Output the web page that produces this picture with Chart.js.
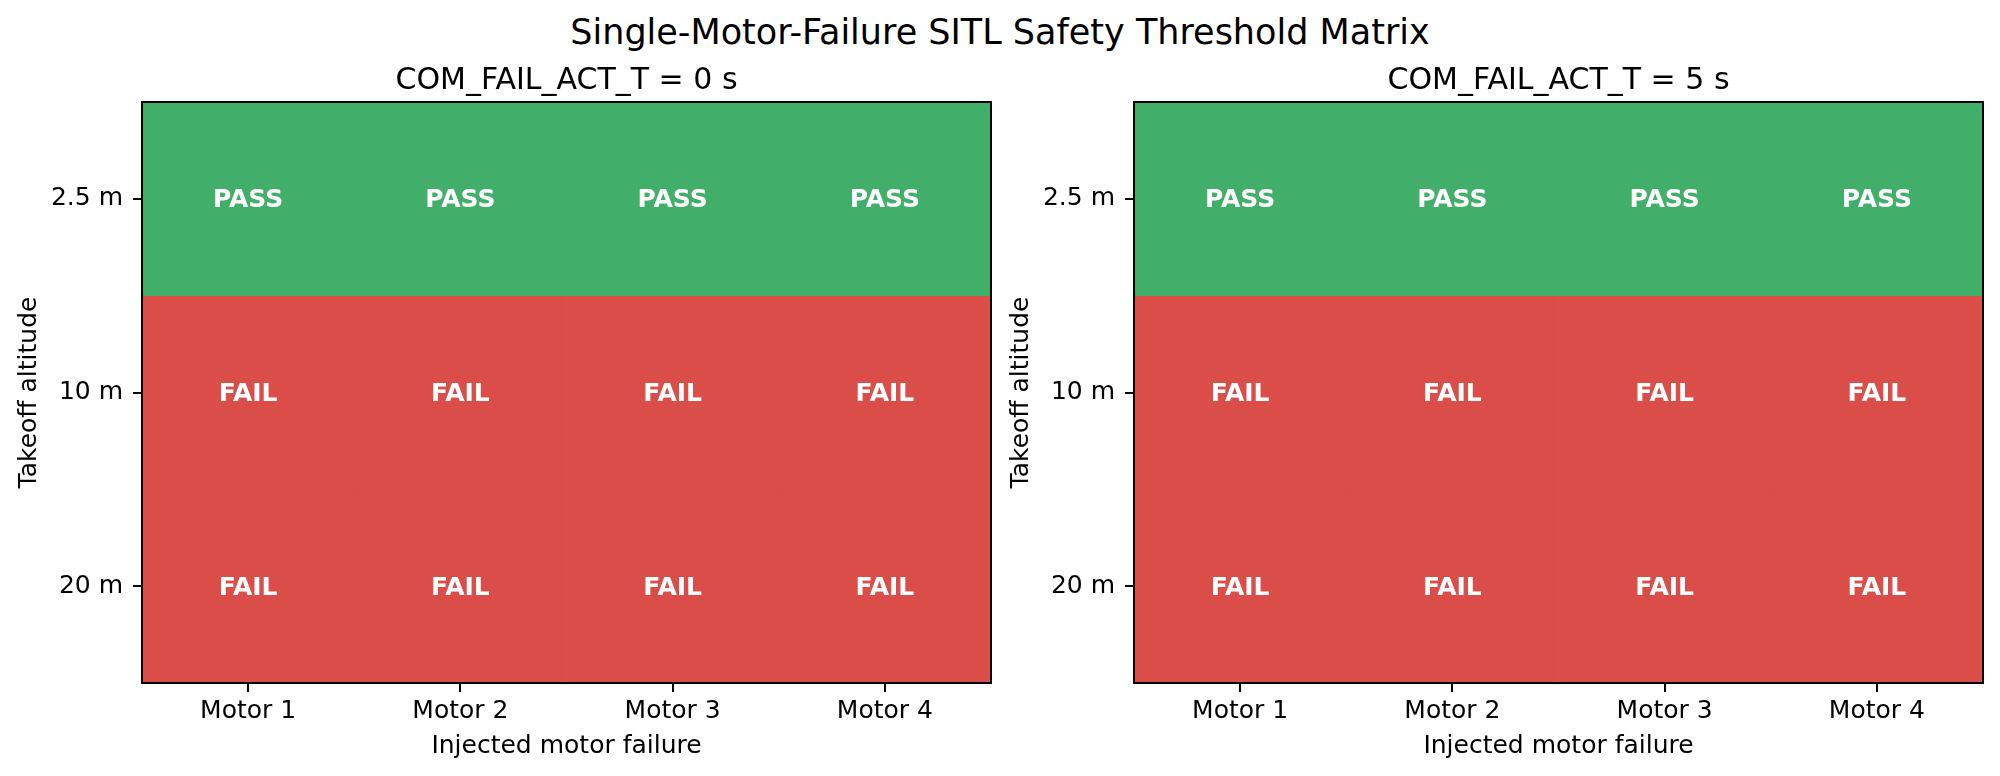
<!DOCTYPE html>
<html>
<head>
<meta charset="utf-8">
<script src="https://cdn.jsdelivr.net/npm/chart.js@4.4.1/dist/chart.umd.min.js"></script>
<style>
  html, body { margin: 0; padding: 0; background: #fff; }
  #wrap { position: relative; width: 2000px; height: 776px; overflow: hidden; }
  canvas { position: absolute; top: 0; }
  #suptitle {
    position: absolute; left: 0; width: 2000px; top: 15px;
    text-align: center; font-family: "DejaVu Sans", sans-serif;
    font-size: 35px; line-height: 1; color: #000;
  }
</style>
</head>
<body>
<div id="wrap">
  <div id="suptitle">Single-Motor-Failure SITL Safety Threshold Matrix</div>
  <canvas id="left" width="1000" height="776" style="left:0px"></canvas>
  <canvas id="right" width="1000" height="776" style="left:992px"></canvas>
</div>
<script>
// data
var motors = ['Motor 1', 'Motor 2', 'Motor 3', 'Motor 4'];
var altitudes = ['2.5 m', '10 m', '20 m'];
var delays = ['COM_FAIL_ACT_T = 0 s', 'COM_FAIL_ACT_T = 5 s'];
var resultsDelay0 = [
    ['PASS', 'PASS', 'PASS', 'PASS'],
    ['FAIL', 'FAIL', 'FAIL', 'FAIL'],
    ['FAIL', 'FAIL', 'FAIL', 'FAIL']
];
var resultsDelay5 = [
    ['PASS', 'PASS', 'PASS', 'PASS'],
    ['FAIL', 'FAIL', 'FAIL', 'FAIL'],
    ['FAIL', 'FAIL', 'FAIL', 'FAIL']
];

var colorFor = { PASS: 'rgb(65, 174, 106)', FAIL: 'rgb(219, 77, 72)' };
var font = '"DejaVu Sans", sans-serif';

// cell labels + frame + panel title
var cellPlugin = {
    id: 'cells',
    afterDatasetsDraw: function(chart) {
        var ctx = chart.ctx;
        var results = chart.options.plugins.cells.results;
        ctx.save();
        ctx.fillStyle = '#fff';
        ctx.font = 'bold 25px ' + font;
        ctx.textAlign = 'center';
        ctx.textBaseline = 'middle';
        chart.data.datasets.forEach(function(ds, r) {
            chart.getDatasetMeta(r).data.forEach(function(bar, c) {
                ctx.fillText(results[r][c], bar.x, (bar.y + bar.base) / 2 + 2);
            });
        });
        var a = chart.chartArea;
        ctx.strokeStyle = '#000';
        ctx.lineWidth = 2;
        ctx.strokeRect(a.left, a.top, a.right - a.left, a.bottom - a.top);
        ctx.fillStyle = '#000';
        ctx.font = '30px ' + font;
        ctx.textBaseline = 'alphabetic';
        ctx.fillText(chart.options.plugins.cells.title, (a.left + a.right) / 2, 89);
        ctx.restore();
    }
};

function makePanel(id, title, results) {
    var datasets = altitudes.map(function(alt, r) {
        return {
            label: alt,
            data: motors.map(function() { return [r, r + 1]; }),
            backgroundColor: results[r].map(function(v) { return colorFor[v]; }),
            borderWidth: 0,
            barPercentage: 1,
            categoryPercentage: 1,
            grouped: false
        };
    });
    return new Chart(document.getElementById(id).getContext('2d'), {
        type: 'bar',
        data: { labels: motors, datasets: datasets },
        options: {
            responsive: false,
            animation: false,
            devicePixelRatio: 1,
            layout: { padding: { top: 102, right: 9, left: 0, bottom: 0 } },
            scales: {
                x: {
                    offset: true,
                    grid: { display: true, drawOnChartArea: false, drawTicks: true, tickLength: 9, offset: false, color: '#000', lineWidth: 2 },
                    border: { display: false },
                    ticks: { color: '#000', font: { family: font, size: 25 }, padding: 4, maxRotation: 0 },
                    title: { display: true, text: 'Injected motor failure', color: '#000', font: { family: font, size: 25 }, padding: { top: 0, bottom: 15 } },
                    afterFit: function(scale) { scale.height = 93; }
                },
                y: {
                    min: 0,
                    max: 3,
                    reverse: true,
                    afterBuildTicks: function(scale) {
                        scale.ticks = altitudes.map(function(a, i) { return { value: i + 0.5 }; });
                    },
                    grid: { display: true, drawOnChartArea: false, drawTicks: true, tickLength: 9, color: '#000', lineWidth: 2 },
                    border: { display: false },
                    ticks: {
                        color: '#000', font: { family: font, size: 25 }, padding: 10,
                        callback: function(v) { return altitudes[Math.floor(v)]; }
                    },
                    title: { display: true, text: 'Takeoff altitude', color: '#000', font: { family: font, size: 25 }, padding: { top: 14, bottom: 14 } },
                    afterFit: function(scale) { scale.width = 142; }
                }
            },
            plugins: {
                legend: { display: false },
                tooltip: { enabled: false },
                title: { display: false },
                cells: { results: results, title: title }
            }
        },
        plugins: [cellPlugin]
    });
}

makePanel('left', delays[0], resultsDelay0);
makePanel('right', delays[1], resultsDelay5);
</script>
</body>
</html>
